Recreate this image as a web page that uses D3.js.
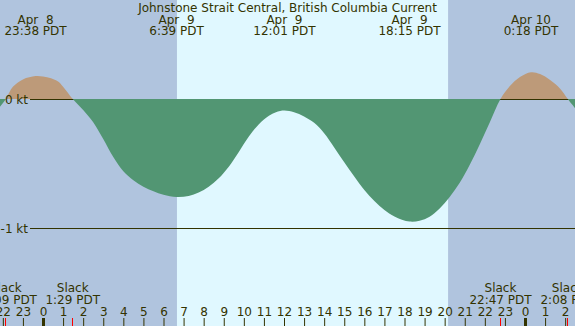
<!DOCTYPE html>
<html>
<head>
<meta charset="utf-8">
<script src="https://cdn.jsdelivr.net/npm/d3@7"></script>
<style>
  body { margin: 0; background: #b0c4de; }
  svg text { font-family: "DejaVu Sans", sans-serif; font-size: 12px; fill: #333300; white-space: pre; }
</style>
</head>
<body>
<div id="chart"></div>
<script>
// hours are counted from Apr 9 00:00 PDT
var title = "Johnstone Strait Central, British Columbia Current";

var curveHours = [-2.14, -1.85, -1.5, -1, -0.37, 0, 0.4, 0.75, 1, 1.48, 2, 2.5, 3, 3.5, 4, 4.5, 5, 5.5, 6, 6.65,
    7.25, 7.75, 8.25, 8.75, 9.25, 9.75, 10.25, 10.75, 11.25, 11.6, 12.02, 12.5, 13, 13.5, 14, 14.5, 15, 15.5,
    16, 16.5, 17, 17.5, 18.25, 18.75, 19.25, 19.75, 20.25, 20.75, 21.25, 21.75, 22.25, 22.78, 23.25, 23.75,
    24.3, 24.75, 25.25, 25.75, 26.13, 26.49];
var curveKnots = [-0.06, 0, 0.095, 0.152, 0.178, 0.174, 0.16, 0.135, 0.095, 0, -0.085, -0.18, -0.31, -0.45, -0.56, -0.63, -0.68, -0.715, -0.742, -0.76,
    -0.752, -0.725, -0.68, -0.615, -0.525, -0.41, -0.29, -0.195, -0.13, -0.102, -0.09, -0.103, -0.135, -0.185, -0.265, -0.375, -0.49, -0.6,
    -0.705, -0.79, -0.86, -0.91, -0.95, -0.943, -0.912, -0.848, -0.76, -0.65, -0.51, -0.35, -0.18, 0, 0.1, 0.17,
    0.207, 0.193, 0.147, 0.08, 0, -0.07];

var peakHours = [-0.37, 6.65, 12.02, 18.25, 24.3];
var peakDays = ["Apr  8", "Apr  9", "Apr  9", "Apr  9", "Apr 10"];
var peakTimes = ["23:38 PDT", "6:39 PDT", "12:01 PDT", "18:15 PDT", "0:18 PDT"];

var slackHours = [-1.85, 1.48, 22.78, 26.13];
var slackTimes = ["22:09 PDT", "1:29 PDT", "22:47 PDT", "2:08 PDT"];

var sunrise = 6.67, sunset = 20.17;
var levels = [0, -1];
var levelLabels = ["0 kt", "-1 kt"];
var hourTicks = d3.range(-2, 27);

var width = 575, height = 326;

var svg = d3.select("#chart").append("svg")
    .attr("width", width)
    .attr("height", height);

var x = d3.scaleLinear().domain([0, 24]).range([43, 525]);
var y = d3.scaleLinear().domain([-1, 0]).range([228, 99]);

// night background + daylight band
svg.append("rect").attr("width", width).attr("height", height).attr("fill", "#b0c4de");
svg.append("rect")
    .attr("x", x(sunrise)).attr("y", 0)
    .attr("width", x(sunset) - x(sunrise)).attr("height", height)
    .attr("fill", "#e0f8ff");

var data = curveHours.map(function(h, i){ return {h: h, v: curveKnots[i]}; });

var area = d3.area()
    .curve(d3.curveCatmullRom.alpha(0.5))
    .x(function(d){ return x(d.h); })
    .y0(y(0))
    .y1(function(d){ return y(d.v); });

var defs = svg.append("defs");
defs.append("clipPath").attr("id", "above")
    .append("rect").attr("x", 0).attr("y", 0).attr("width", width).attr("height", y(0));
defs.append("clipPath").attr("id", "below")
    .append("rect").attr("x", 0).attr("y", y(0)).attr("width", width).attr("height", height);

svg.append("path").datum(data)
    .attr("d", area)
    .attr("fill", "#bd9a79")
    .attr("clip-path", "url(#above)");

// level lines (zero line gets covered by the ebb fill)
svg.selectAll(".level").data(levels).enter().append("line")
    .attr("x1", 30).attr("x2", width)
    .attr("y1", function(d){ return y(d) + 0.5; })
    .attr("y2", function(d){ return y(d) + 0.5; })
    .attr("stroke", "#333300");

svg.append("path").datum(data)
    .attr("d", area)
    .attr("fill", "#529673")
    .attr("clip-path", "url(#below)");

svg.selectAll(".levelText").data(levels).enter().append("text")
    .attr("x", 28)
    .attr("y", function(d){ return y(d) + 4.5; })
    .attr("text-anchor", "end")
    .text(function(d, i){ return levelLabels[i]; });

// title and peak labels
svg.append("text").attr("x", width / 2).attr("y", 12)
    .attr("text-anchor", "middle").text(title);

peakHours.forEach(function(h, i){
    svg.append("text").attr("x", x(h)).attr("y", 23.5)
        .attr("text-anchor", "middle").text(peakDays[i]);
    svg.append("text").attr("x", x(h)).attr("y", 35)
        .attr("text-anchor", "middle").text(peakTimes[i]);
});

// slack labels and red ticks
slackHours.forEach(function(h, i){
    svg.append("text").attr("x", x(h)).attr("y", 291.5)
        .attr("text-anchor", "middle").text("Slack");
    svg.append("text").attr("x", x(h)).attr("y", 303.5)
        .attr("text-anchor", "middle").text(slackTimes[i]);
    var px = Math.floor(x(h)) + 0.5;
    svg.append("line").attr("x1", px).attr("x2", px)
        .attr("y1", 318).attr("y2", height)
        .attr("stroke", "#ff0000");
});

// hour axis
var axis = d3.axisTop(x)
    .tickValues(hourTicks)
    .tickSize(8)
    .tickPadding(2)
    .tickFormat(function(h){ return ((h % 24) + 24) % 24; });

var gAxis = svg.append("g").attr("transform", "translate(0," + height + ")").call(axis);
gAxis.select(".domain").remove();
gAxis.selectAll(".tick line")
    .attr("stroke", "#333300")
    .attr("stroke-width", function(h){ return h % 24 == 0 ? 3 : 1; });
gAxis.selectAll(".tick text")
    .attr("fill", "#333300")
    .style("font-family", "DejaVu Sans, sans-serif")
    .style("font-size", "12px");
</script>
</body>
</html>
